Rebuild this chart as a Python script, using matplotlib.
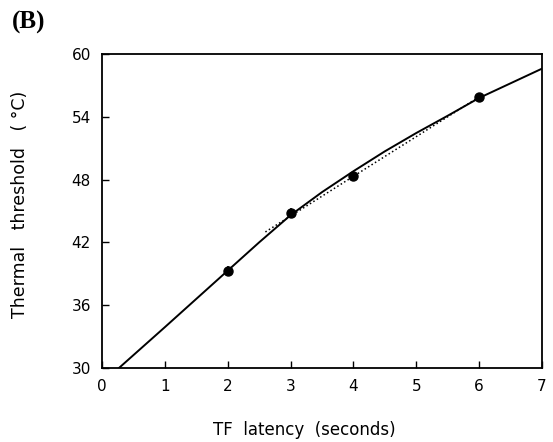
import matplotlib
matplotlib.use("Agg")
import matplotlib.pyplot as plt

# measured means (TF latency s, threshold degC)
lat = [2, 3, 4, 6]
thr = [39.3, 44.8, 48.3, 55.9]
err = [0.45, 0.45, 0.45, 0.4]

# solid curve
curve_x = [0.27, 1.0, 1.5, 2.0, 2.5, 3.0, 3.5, 4.0, 4.5, 5.0, 5.5, 6.0, 6.5, 7.0]
curve_y = [30.0, 33.9, 36.6, 39.3, 42.0, 44.6, 46.8, 48.8, 50.7, 52.45, 54.1, 55.8, 57.2, 58.6]

# dotted line
dot_x = [2.6, 6.0]
dot_y = [43.0, 55.9]

plt.rcParams["font.family"] = ["DejaVu Sans"]
fig = plt.figure(figsize=(5.53, 4.42), dpi=100)
ax = fig.add_axes([0.1844, 0.1674, 0.7956, 0.7104])

ax.plot(curve_x, curve_y, "k-", lw=1.4)
ax.plot(dot_x, dot_y, "k:", lw=1.1)
ax.errorbar(lat, thr, yerr=err, fmt="o", color="k", ms=6.5, elinewidth=1.2, capsize=0)

ax.set_xlim(0, 7)
ax.set_ylim(30, 60)
ax.set_xticks(range(0, 8))
ax.set_yticks([30, 36, 42, 48, 54, 60])
ax.tick_params(direction="in", length=5, width=1, labelsize=11, pad=8)
for s in ax.spines.values():
    s.set_linewidth(1.3)

ax.set_xlabel("TF  latency  (seconds)", fontsize=12)
ax.xaxis.set_label_coords(0.46, -0.17)
ax.set_ylabel("Thermal   threshold   ( °C)", fontsize=12.5)
ax.yaxis.set_label_coords(-0.165, 0.52)

fig.text(0.022, 0.95, "(B)", fontsize=18, fontweight="bold",
         family="Liberation Serif", va="center", ha="left")

fig.savefig("out.png", dpi=100)
